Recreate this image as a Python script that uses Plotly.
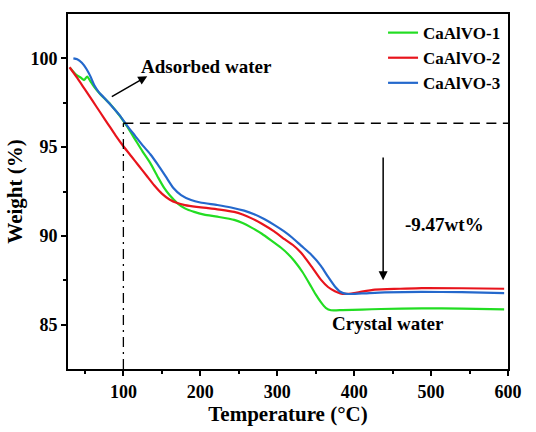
import plotly.graph_objects as go

# ---- data ----
t1 = [31, 38, 45, 49, 53, 57, 62, 70, 83, 95, 105, 115, 125, 135, 145, 153, 160, 170, 180, 192, 205, 222, 244, 255, 266, 280, 292, 305, 314, 322, 333, 344, 350, 357, 363, 370, 385, 410, 435, 488, 540, 595]
w1 = [99.45, 99.1, 98.9, 98.78, 98.98, 98.72, 98.4, 97.98, 97.42, 96.78, 96.15, 95.45, 94.75, 94.1, 93.3, 92.7, 92.3, 91.85, 91.55, 91.35, 91.2, 91.08, 90.9, 90.72, 90.48, 90.12, 89.75, 89.33, 88.98, 88.6, 87.95, 87.15, 86.7, 86.25, 85.95, 85.81, 85.82, 85.85, 85.88, 85.92, 85.9, 85.86]

t2 = [30, 40, 50, 60, 70, 80, 90, 100, 110, 120, 130, 140, 150, 160, 170, 180, 195, 210, 225, 244, 255, 266, 280, 296, 310, 320, 331, 345, 357, 366, 375, 382, 388, 400, 410, 427, 460, 488, 540, 595]
w2 = [99.5, 98.9, 98.25, 97.6, 96.95, 96.3, 95.65, 95.05, 94.5, 93.95, 93.4, 92.85, 92.38, 92.05, 91.85, 91.73, 91.63, 91.56, 91.48, 91.35, 91.2, 91.0, 90.68, 90.25, 89.8, 89.5, 89.05, 88.25, 87.52, 87.12, 86.88, 86.76, 86.73, 86.78, 86.86, 86.97, 87.02, 87.06, 87.05, 87.02]

t3 = [35, 40, 46, 52, 57, 62, 68, 75, 85, 95, 105, 115, 125, 135, 145, 155, 165, 175, 188, 200, 222, 240, 257, 270, 283, 296, 309, 320, 331, 344, 357, 366, 375, 382, 390, 410, 440, 488, 540, 595]
w3 = [100.0, 99.95, 99.75, 99.4, 99.0, 98.5, 98.1, 97.78, 97.3, 96.8, 96.2, 95.65, 95.1, 94.6, 94.0, 93.35, 92.7, 92.3, 92.02, 91.88, 91.74, 91.6, 91.42, 91.22, 90.95, 90.62, 90.25, 89.88, 89.45, 88.95, 88.3, 87.7, 87.15, 86.85, 86.73, 86.76, 86.82, 86.84, 86.83, 86.78]

names = ["CaAlVO-1", "CaAlVO-2", "CaAlVO-3"]
colors = ["#22dd22", "#e8141c", "#2468cc"]

x_ticks = [100, 200, 300, 400, 500, 600]
y_ticks = [85, 90, 95, 100]

FONT = "Liberation Serif"

fig = go.Figure()
for t, w, n, c in zip([t1, t2, t3], [w1, w2, w3], names, colors):
    fig.add_trace(go.Scatter(x=t, y=w, mode="lines", name=n,
                             line=dict(color=c, width=2.2, shape="spline", smoothing=0.6)))

# reference lines
fig.add_shape(type="line", x0=100, x1=600, y0=96.35, y1=96.35, xref="x", yref="y",
              line=dict(color="black", width=1.5, dash="10px,6.5px"))
fig.add_shape(type="line", x0=100, x1=100, y0=82.5, y1=96.35, xref="x", yref="y",
              line=dict(color="black", width=1.3, dash="10px,5px,2px,5px"))

# arrows
fig.add_annotation(x=131, y=99.0, ax=83, ay=97.8, xref="x", yref="y", axref="x", ayref="y",
                   text="", showarrow=True, arrowhead=2, arrowsize=1.2, arrowwidth=1.5, arrowcolor="black")
fig.add_annotation(x=437.7, y=87.5, ax=437.7, ay=94.5, xref="x", yref="y", axref="x", ayref="y",
                   text="", showarrow=True, arrowhead=2, arrowsize=1.2, arrowwidth=1.5, arrowcolor="black")

# text labels
tfont = dict(family=FONT, size=19, color="black", weight="bold")
fig.add_annotation(x=120, y=99.56, text="Adsorbed water", showarrow=False, xanchor="left",
                   font=tfont)
fig.add_annotation(x=518, y=90.64, text="-9.47wt%", showarrow=False, font=tfont)
fig.add_annotation(x=444, y=85.04, text="Crystal water", showarrow=False, font=tfont)

axis_common = dict(showline=True, linecolor="black", linewidth=2, mirror=True,
                   ticks="outside", ticklen=5, tickwidth=2, tickcolor="black",
                   showgrid=False, zeroline=False,
                   tickfont=dict(family=FONT, size=18, color="black", weight="bold"))

fig.update_layout(
    width=536, height=432,
    margin=dict(l=68, r=28, t=14, b=55),
    plot_bgcolor="white", paper_bgcolor="white",
    xaxis=dict(range=[28, 600], tickvals=x_ticks,
               minor=dict(tickvals=[50, 150, 250, 350, 450, 550], ticks="outside", ticklen=3,
                          tickwidth=2, tickcolor="black"),
               title=dict(text="Temperature (°C)", standoff=4,
                          font=dict(family=FONT, size=21, color="black", weight="bold")),
               **axis_common),
    yaxis=dict(range=[82.5, 102.5], tickvals=y_ticks,
               minor=dict(tickvals=[87.5, 92.5, 97.5], ticks="outside", ticklen=3,
                          tickwidth=2, tickcolor="black"),
               title=dict(text="Weight (%)", standoff=2,
                          font=dict(family=FONT, size=21, color="black", weight="bold")),
               **axis_common),
    legend=dict(x=0.716, y=0.997, xanchor="left", yanchor="top",
                bgcolor="rgba(0,0,0,0)", borderwidth=0,
                font=dict(family=FONT, size=17, color="black", weight="bold")),
)

fig.write_html("out.html")
